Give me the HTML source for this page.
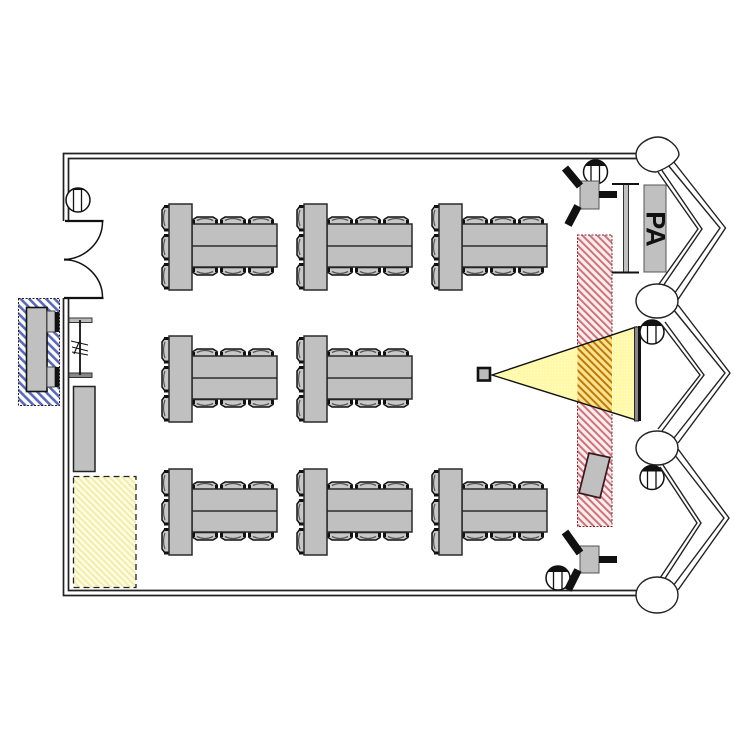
<!DOCTYPE html>
<html><head><meta charset="utf-8"><style>html,body{margin:0;padding:0;background:#fff}svg{display:block}</style></head><body>
<svg width="750" height="750" viewBox="0 0 750 750" xmlns="http://www.w3.org/2000/svg" font-family="Liberation Sans, sans-serif">
<defs>
<pattern id="hb" width="6" height="6" patternUnits="userSpaceOnUse" patternTransform="rotate(-45)"><rect width="6" height="6" fill="#fff"/><rect width="2.6" height="6" fill="#5a6ab4"/></pattern>
<pattern id="hp" width="5.2" height="5.2" patternUnits="userSpaceOnUse" patternTransform="rotate(-45)"><rect width="5.2" height="5.2" fill="#fdecec"/><rect width="2" height="5.2" fill="#c8747c"/></pattern>
<pattern id="hy" width="4.5" height="4.5" patternUnits="userSpaceOnUse" patternTransform="rotate(-45)"><rect width="4.5" height="4.5" fill="#fffde0"/><rect width="2" height="4.5" fill="#f2ecb0"/></pattern>
<pattern id="ho" width="5.2" height="5.2" patternUnits="userSpaceOnUse" patternTransform="rotate(-45)"><rect width="5.2" height="5.2" fill="#fce28a"/><rect width="2" height="5.2" fill="#b87a10"/></pattern>
<pattern id="by" width="3" height="3" patternUnits="userSpaceOnUse"><rect width="3" height="3" fill="#fff9a8"/><rect width="1" height="1" fill="#fffdd8"/></pattern>
<clipPath id="beamclip"><polygon points="492,375 636,327 636,420"/></clipPath>
<g id="chairT"><path d="M1,8.5 V3.5 L5,1 H21 L25,3.5 V8.5 Z" fill="#c8c8c8" stroke="#111" stroke-width="1.5"/><path d="M5,4.5 Q13,0.5 21,4.5" fill="none" stroke="#555" stroke-width="1.3"/><rect x="0" y="4" width="3" height="5" fill="#111"/><rect x="23" y="4" width="3" height="5" fill="#111"/></g>
<g id="chairB"><use href="#chairT" transform="matrix(1 0 0 -1 0 9)"/></g>
<g id="chairL"><path d="M8.5,1 H4 L1,5 V21 L4,25 H8.5 Z" fill="#c8c8c8" stroke="#111" stroke-width="1.5"/><path d="M4,5 Q1,13 4,21" fill="none" stroke="#555" stroke-width="1.2"/><rect x="3" y="0" width="5.5" height="3" fill="#111"/><rect x="3" y="23.5" width="5.5" height="3" fill="#111"/></g>
<g id="tbl">
<use href="#chairL" x="-8" y="1"/><use href="#chairL" x="-8" y="30"/><use href="#chairL" x="-8" y="59"/>
<use href="#chairT" x="23" y="12"/><use href="#chairT" x="51" y="12"/><use href="#chairT" x="79" y="12"/>
<use href="#chairB" x="23" y="63"/><use href="#chairB" x="51" y="63"/><use href="#chairB" x="79" y="63"/>
<rect x="23" y="20" width="85" height="43" fill="#c0c0c0" stroke="#2a2a2a" stroke-width="1.5"/>
<line x1="23" y1="42" x2="108" y2="42" stroke="#111" stroke-width="1.3"/>
<rect x="0" y="0" width="23" height="86" fill="#c0c0c0" stroke="#2a2a2a" stroke-width="1.5"/>
</g>
<g id="lamp"><circle cx="0" cy="0" r="12" fill="#fff" stroke="#111" stroke-width="1.5"/><path d="M-10.4,-6 A12,12 0 0 1 10.4,-6 Z" fill="#111"/><line x1="-4.5" y1="-7" x2="-4.5" y2="11.2" stroke="#111" stroke-width="1.3"/><line x1="4" y1="-7" x2="4" y2="11.3" stroke="#111" stroke-width="1.3"/></g>
<g id="lamp2"><circle cx="0" cy="0" r="12" fill="#fff" stroke="#111" stroke-width="1.5"/><path d="M-6.6,-10 A12,12 0 0 1 6.6,-10 Z" fill="#111"/><line x1="-4.5" y1="-10" x2="-4.5" y2="11.2" stroke="#111" stroke-width="1.3"/><line x1="3.5" y1="-10" x2="3.5" y2="11.3" stroke="#111" stroke-width="1.3"/></g>
</defs>

<!-- left hatched area -->
<rect x="18.5" y="298.5" width="41" height="107" fill="url(#hb)" stroke="#223" stroke-width="1" stroke-dasharray="2 1.5"/>
<rect x="26.5" y="307.5" width="20.5" height="84" fill="#c0c0c0" stroke="#111" stroke-width="1.6"/>
<rect x="47" y="311" width="8" height="21" fill="#c8c8c8" stroke="#444" stroke-width="1"/>
<rect x="55" y="312" width="4.5" height="20" fill="#111"/>
<rect x="47" y="367" width="8" height="20" fill="#c8c8c8" stroke="#444" stroke-width="1"/>
<rect x="55" y="367" width="4.5" height="20" fill="#111"/>

<!-- yellow area -->
<rect x="73.5" y="476.5" width="62.5" height="111" fill="url(#hy)" stroke="#222" stroke-width="1.3" stroke-dasharray="6 4"/>

<!-- walls -->
<g fill="none" stroke="#222" stroke-width="1.7">
<path d="M63.5,221 V153.5 H640"/>
<path d="M68.5,221 V158.5 H640"/>
<path d="M63.5,298 V595.5 H640"/>
<path d="M68.5,298 V590.5 H640"/>
</g>
<!-- door -->
<path d="M65,221 H103.5 M64,298 H103.5" stroke="#111" stroke-width="2.2" fill="none"/>
<path d="M102.5,221 A40,38 0 0 1 64,259.5 M102.5,298 A40,38 0 0 0 64,259.5" stroke="#111" stroke-width="1.5" fill="none"/>
<rect x="64" y="258.5" width="7" height="2.2" fill="#111"/>

<!-- I-beam -->
<rect x="69" y="318" width="23" height="4.5" fill="#bbb" stroke="#333"/>
<rect x="69" y="373" width="23" height="4.5" fill="#888" stroke="#333"/>
<line x1="80" y1="320" x2="80" y2="375" stroke="#111" stroke-width="1.8"/>
<g stroke="#111" stroke-width="1.1" fill="none"><path d="M71,341 L88,345"/><path d="M72,347 L88,351"/><path d="M72,352 L88,355"/><path d="M74,354 L79,342"/></g>
<rect x="73.5" y="386.5" width="21.5" height="85" fill="#c0c0c0" stroke="#222" stroke-width="1.5"/>

<use href="#lamp2" x="78" y="200"/>

<!-- tables -->
<use href="#tbl" x="169" y="204"/>
<use href="#tbl" x="304" y="204"/>
<use href="#tbl" x="439" y="204"/>
<use href="#tbl" x="169" y="336"/>
<use href="#tbl" x="304" y="336"/>
<use href="#tbl" x="169" y="469"/>
<use href="#tbl" x="304" y="469"/>
<use href="#tbl" x="439" y="469"/>

<!-- stage -->
<rect x="577.5" y="235" width="34.5" height="291.5" fill="url(#hp)" stroke="#7a2a34" stroke-width="1" stroke-dasharray="2 1.5"/>

<!-- beam -->
<polygon points="492,375 636,327 636,420" fill="url(#by)"/>
<rect x="577.5" y="320" width="34.5" height="110" fill="url(#ho)" clip-path="url(#beamclip)"/>
<polygon points="492,375 636,327 636,420" fill="none" stroke="#111" stroke-width="1.4"/>
<rect x="478" y="368" width="12" height="12.5" fill="#bbb" stroke="#111" stroke-width="2.6"/>
<rect x="634.5" y="327" width="4" height="94" fill="#888" stroke="#222" stroke-width="1"/>
<rect x="638" y="326" width="3" height="95" fill="#111"/>

<!-- lectern -->
<polygon points="589,453 610,457.5 600,498 579,493" fill="#c0c0c0" stroke="#3a1820" stroke-width="1.7"/>

<!-- screen stand -->
<rect x="623.5" y="184" width="5" height="88" fill="#c0c0c0" stroke="#333" stroke-width="1"/>
<path d="M612,184 H639 M612,272.5 H639" stroke="#111" stroke-width="2"/>

<!-- PA -->
<rect x="644" y="185" width="22" height="87" fill="#c0c0c0" stroke="#555" stroke-width="1"/>
<text transform="translate(646.5,229) rotate(90)" text-anchor="middle" font-size="27" font-weight="bold" fill="#111">PA</text>

<!-- lamps -->
<use href="#lamp" x="595.5" y="172"/>
<use href="#lamp" x="652" y="332"/>
<use href="#lamp" x="652" y="477.5"/>
<use href="#lamp" x="558" y="578"/>

<!-- cameras -->
<g>
<rect x="580" y="181" width="19" height="28" fill="#c0c0c0" stroke="#555" stroke-width="1"/>
<rect x="599" y="191" width="18" height="7" fill="#111"/>
<path d="M580,186 L565,168 M578,206 L568,225" stroke="#111" stroke-width="8" fill="none"/>
</g>
<g>
<rect x="580" y="546" width="19" height="27" fill="#c0c0c0" stroke="#555" stroke-width="1"/>
<rect x="599" y="556" width="18" height="7" fill="#111"/>
<path d="M580,553 L565,532 M578,570 L568,590" stroke="#111" stroke-width="8" fill="none"/>
</g>

<!-- chevron walls -->
<g fill="none" stroke="#222" stroke-width="1.4">
<path d="M673,161 L725.5,228 L677,301"/>
<path d="M668,165 L720,228 L672,297"/>
<path d="M658,172 L698,229 L659,284"/>
<path d="M661,169 L702,229 L663,286"/>
<path d="M678,305 L730,373 L678,443"/>
<path d="M673,309 L725,373 L674,438"/>
<path d="M662,325 L700,375 L658,429"/>
<path d="M665,322 L704,375 L662,431"/>
<path d="M678,449 L729,518 L678,590"/>
<path d="M674,454 L724,518 L673,586"/>
<path d="M660,467 L697,523 L660,578"/>
<path d="M663,465 L701,523 L664,580"/>
</g>
<!-- columns -->
<g fill="#fff" stroke="#222" stroke-width="1.4">
<path d="M636,154 C637,143 650,137 658,137 C668,137 679,147 679,155 C677,161 668,168 656,172 C645,172 636,164 636,154 Z"/>
<ellipse cx="657" cy="301" rx="21" ry="17"/>
<ellipse cx="657" cy="448" rx="21" ry="17"/>
<ellipse cx="657" cy="595" rx="21" ry="18"/>
</g>
</svg>
</body></html>
